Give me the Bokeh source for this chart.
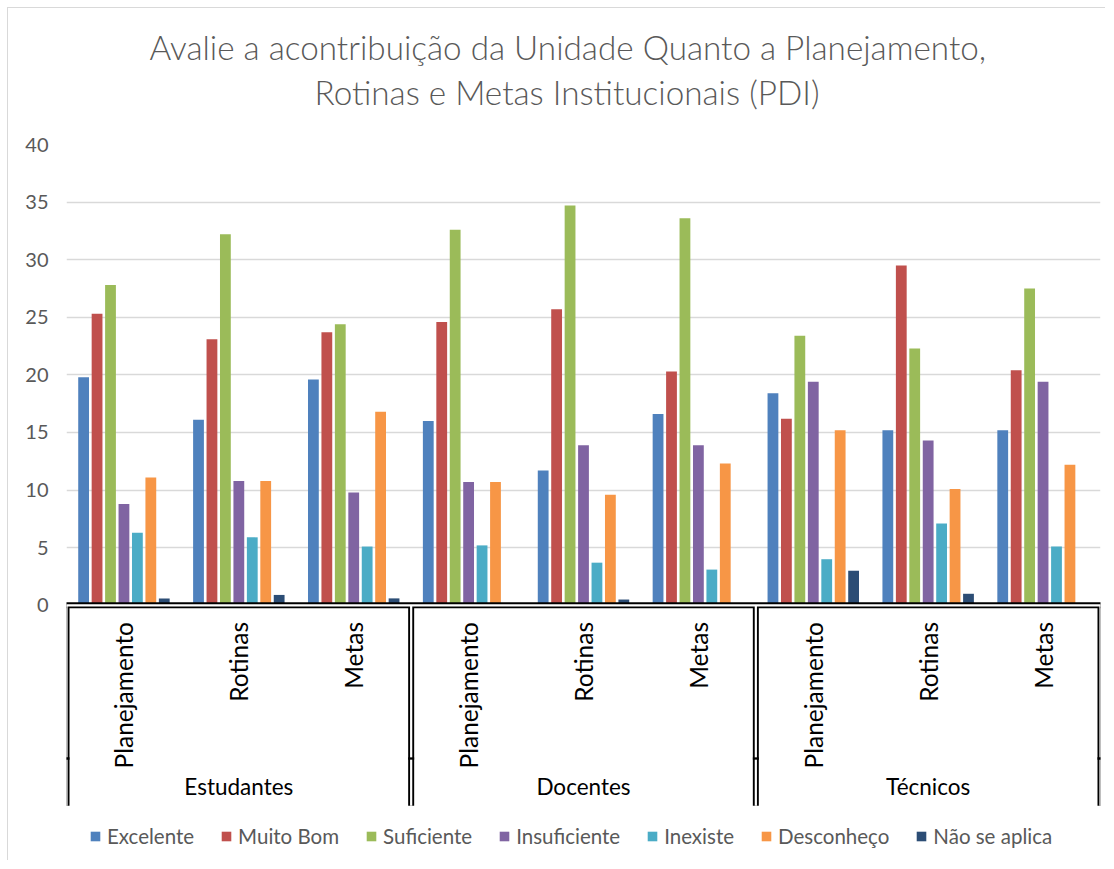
from math import pi
from bokeh.plotting import figure
from bokeh.models import (FactorRange, Range1d, FixedTicker, Legend, LegendItem,
                          ColumnDataSource, Title)
from bokeh.transform import dodge
from bokeh.core.properties import value
from bokeh.embed import file_html
from bokeh.resources import INLINE

title_lines = ["Avalie a acontribuição da Unidade Quanto a Planejamento,",
               "Rotinas e Metas Institucionais (PDI)"]
groups = ["Estudantes", "Docentes", "Técnicos"]
subcats = ["Planejamento", "Rotinas", "Metas"]
series = ["Excelente", "Muito Bom", "Suficiente", "Insuficiente",
          "Inexiste", "Desconheço", "Não se aplica"]
colors = ["#4F81BD", "#C0504D", "#9BBB59", "#8064A2",
          "#4BACC6", "#F79646", "#2C4D75"]

excelente = [19.8, 16.1, 19.6, 16.0, 11.7, 16.6, 18.4, 15.2, 15.2]
muito_bom = [25.3, 23.1, 23.7, 24.6, 25.7, 20.3, 16.2, 29.5, 20.4]
suficiente = [27.8, 32.2, 24.4, 32.6, 34.7, 33.6, 23.4, 22.3, 27.5]
insuficiente = [8.8, 10.8, 9.8, 10.7, 13.9, 13.9, 19.4, 14.3, 19.4]
inexiste = [6.3, 5.9, 5.1, 5.2, 3.7, 3.1, 4.0, 7.1, 5.1]
desconheco = [11.1, 10.8, 16.8, 10.7, 9.6, 12.3, 15.2, 10.1, 12.2]
nao_se_aplica = [0.6, 0.9, 0.6, 0.0, 0.5, 0.0, 3.0, 1.0, 0.0]
y_ticks = [0, 5, 10, 15, 20, 25, 30, 35, 40]

values_by_series = [excelente, muito_bom, suficiente, insuficiente,
                    inexiste, desconheco, nao_se_aplica]

FONT = "Lato"
TITLE_FONT = "'Lato Light', Lato"
GRAY = "#595959"

x = [(g, s) for g in groups for s in subcats]
data = {"x": x}
for i, vals in enumerate(values_by_series):
    data["s%d" % i] = vals
source = ColumnDataSource(data)

p = figure(x_range=FactorRange(*x, factor_padding=0, group_padding=0,
                               subgroup_padding=0, range_padding=0),
           y_range=Range1d(-22.24, 40),
           width=1098, height=853, output_backend="svg",
           toolbar_location=None, x_axis_location=None,
           min_border_left=58, min_border_right=6, min_border_bottom=0,
           min_border_top=136)
p.styles = {"margin-left": "7px", "margin-top": "7px",
            "border-left": "1px solid #D9D9D9",
            "border-top": "1px solid #D9D9D9"}
p.background_fill_color = "white"
p.border_fill_color = "white"
p.outline_line_color = None

# titles: spacer nearest the frame, then line 2, then line 1
spacer = Title(text=" ", text_font_size="1px", standoff=28)
t2 = Title(text=title_lines[1], align="left", text_font=TITLE_FONT,
           text_font_size="33.25px", text_color=GRAY, text_font_style="normal",
           offset=248, standoff=3)
t1 = Title(text=title_lines[0], align="left", text_font=TITLE_FONT,
           text_font_size="33.25px", text_color=GRAY, text_font_style="normal",
           offset=83, standoff=3)
p.add_layout(spacer, "above")
p.add_layout(t2, "above")
p.add_layout(t1, "above")

# y axis
p.yaxis.ticker = FixedTicker(ticks=y_ticks)
p.yaxis.axis_line_color = None
p.yaxis.major_tick_line_color = None
p.yaxis.minor_tick_line_color = None
p.yaxis.major_tick_out = 0
p.yaxis.major_tick_in = 0
p.yaxis.major_label_standoff = 18
p.yaxis.major_label_text_font = FONT
p.yaxis.major_label_text_font_size = "20px"
p.yaxis.major_label_text_color = GRAY

p.ygrid.ticker = FixedTicker(ticks=y_ticks)
p.ygrid.grid_line_color = "#D9D9D9"
p.ygrid.grid_line_width = 1.5
p.xgrid.grid_line_color = None

# bars
n = len(series)
step = 0.117
bw = 0.094
renderers = []
for i, (name, color) in enumerate(zip(series, colors)):
    r = p.vbar(x=dodge("x", (i - (n - 1) / 2) * step, range=p.x_range),
               top="s%d" % i, bottom=0, width=bw, source=source,
               fill_color=color, line_color=None)
    renderers.append(r)

# category bracket lines (double-line look)
edges = [(g, subcats[0], -0.5) for g in groups] + [(groups[-1], subcats[-1], 0.5)]
y_bot = -17.4
y_notch = -13.3
for lw, col in ((6, "black"), (2.2, "white")):
    p.segment(x0=[edges[0]], y0=[0], x1=[edges[-1]], y1=[0],
              line_color=col, line_width=lw, line_cap="square")
    p.segment(x0=edges, y0=[0] * len(edges), x1=edges, y1=[y_bot] * len(edges),
              line_color=col, line_width=lw, line_cap="butt")
p.segment(x0=edges, y0=[y_notch + 0.1] * len(edges), x1=edges,
          y1=[y_notch - 0.1] * len(edges), line_color="black", line_width=6)

# sub-category labels (vertical)
p.text(x=x, y=-1.45, text=[s for g, s in x], angle=pi / 2,
       text_align="right", text_baseline="middle",
       text_font=value(FONT), text_font_size="24.5px", text_color="black")
# group labels
p.text(x=[(g, subcats[len(subcats) // 2]) for g in groups], y=-15.75,
       text=groups, text_align="center", text_baseline="middle",
       text_font=value(FONT), text_font_size="22.5px", text_color="black")

legend = Legend(items=[LegendItem(label=s, renderers=[r])
                       for s, r in zip(series, renderers)],
                orientation="horizontal", location=(23, 13),
                glyph_width=12, glyph_height=12, label_standoff=6,
                spacing=26, padding=0, margin=0,
                border_line_color=None, background_fill_alpha=0,
                label_text_font=FONT, label_text_font_size="20.5px",
                label_text_color=GRAY)
p.add_layout(legend, "center")

open("out.html", "w").write(file_html(p, INLINE))
